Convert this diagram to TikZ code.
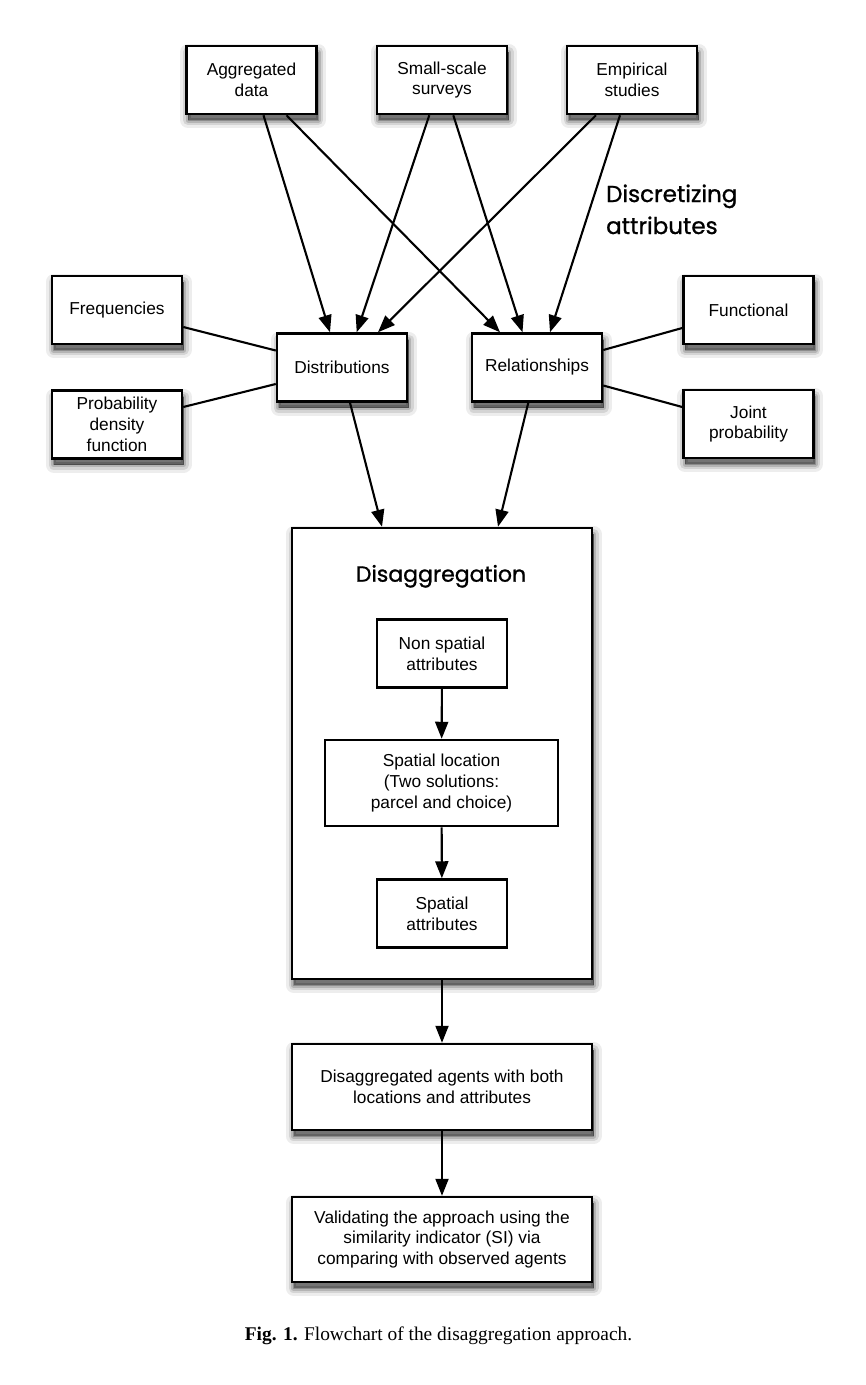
\documentclass[tikz,border=0pt]{standalone}
\usepackage{fontspec}
\setmainfont{Liberation Sans}
\newfontfamily\titlefont[FakeBold=1]{Poppins}
\newfontfamily\capfont{Liberation Serif}
\usetikzlibrary{arrows.meta,shadows,calc}
\begin{document}
\begin{tikzpicture}[x=1pt,y=-1pt,
  box/.style={draw=black, line width=2.5pt, fill=white, minimum width=130pt,
    minimum height=68pt, inner sep=0pt, align=center,
    font=\fontsize{17.3}{20.8}\selectfont},
  shad/.style={
    general shadow={fill=black, draw=black, opacity=0.07, line width=16pt,
      line join=round, shadow xshift=1.5pt, shadow yshift=-6pt},
    general shadow={fill=black, draw=black, opacity=0.10, line width=10pt,
      line join=round, shadow xshift=1.5pt, shadow yshift=-6pt},
    general shadow={fill=black, draw=black, opacity=0.15, line width=5pt,
      line join=round, shadow xshift=1.5pt, shadow yshift=-6pt},
    general shadow={fill=black, draw=black, opacity=0.22, line width=1pt,
      line join=round, shadow xshift=1.5pt, shadow yshift=-6pt}},
  conn/.style={line width=2.1pt},
  arr/.style={line width=2.1pt, -{Triangle[length=17pt,width=13pt]}},
  title/.style={font=\titlefont\fontsize{23}{28}\selectfont, inner sep=0pt}
]
\useasboundingbox (0,0) rectangle (866,1385);
\fill[white] (0,0) rectangle (866,1385);

% top sources
\node[box,shad] (agg) at (251.5,80) {Aggregated\\data};
\node[box,shad] (sss) at (442,80) {Small-scale\\surveys};
\node[box,shad] (emp) at (632,80) {Empirical\\studies};

% middle level
\node[box,shad] (freq) at (117,310) {Frequencies};
\node[box,shad] (pdf) at (117,424.5) {Probability\\density\\function};
\node[box,shad] (dist) at (342,367.5) {Distributions};
\node[box,shad] (rel) at (537,367.5) {Relationships};
\node[box,shad] (func) at (748.5,310) {Functional};
\node[box,shad] (joint) at (748.5,424) {Joint\\probability};

\node[title, anchor=base west] (disc1) at (606,202) {Discretizing};
\node[title, anchor=base west] (disc2) at (606,234) {attributes};

% disaggregation block
\node[draw=black, line width=2.5pt, fill=white, shad, minimum width=300pt,
  minimum height=451pt, inner sep=0pt] (dis) at (442,753.5) {};
\node[title, anchor=base, font=\titlefont\fontsize{22}{28}\selectfont] (distitle)
  at (441,581.7) {Disaggregation};
\node[box] (nonsp) at (442,653.5) {Non spatial\\attributes};
\node[box, minimum width=233pt, minimum height=86pt] (sploc) at (441.5,783)
  {Spatial location\\(Two solutions:\\parcel and choice)};
\node[box] (spatt) at (442,913.5) {Spatial\\attributes};

\node[box, shad, minimum width=300pt, minimum height=86pt] (agents) at (442,1087)
  {Disaggregated agents with both\\locations and attributes};
\node[box, shad, minimum width=300pt, minimum height=85pt] (valid) at (442,1239.5)
  {Validating the approach using the\\similarity indicator (SI) via\\comparing with observed agents};

\node[anchor=base, font=\capfont\fontsize{19.4}{23}\selectfont, inner sep=0pt] (cap)
  at (438.5,1340) {\textbf{Fig. 1.} Flowchart of the disaggregation approach.};

% connectors
\draw[arr] ([xshift=12pt]agg.south) -- ([xshift=-12pt]dist.north);
\draw[arr] ([xshift=35pt]agg.south) -- ([xshift=-37pt]rel.north);
\draw[arr] ([xshift=-12.7pt]sss.south) -- ([xshift=14.7pt]dist.north);
\draw[arr] ([xshift=11.3pt]sss.south) -- ([xshift=-14.5pt]rel.north);
\draw[arr] ([xshift=-36pt]emp.south) -- ([xshift=36pt]dist.north);
\draw[arr] ([xshift=-12pt]emp.south) -- ([xshift=13pt]rel.north);

\draw[conn] ([yshift=-17pt]freq.east) -- ([yshift=17pt]dist.west);
\draw[conn] ([yshift=17.5pt]pdf.east) -- ([yshift=-16.5pt]dist.west);
\draw[conn] ([yshift=17.5pt]rel.east) -- ([yshift=-18pt]func.west);
\draw[conn] ([yshift=-18pt]rel.east) -- ([yshift=17pt]joint.west);

\draw[arr] ([xshift=8pt]dist.south) -- ([xshift=-60pt]dis.north);
\draw[arr] ([xshift=-8.7pt]rel.south) -- ([xshift=56pt]dis.north);

\draw[arr] (nonsp) -- (sploc);
\draw[arr] (sploc) -- (spatt);
\draw[arr] (dis) -- (agents);
\draw[arr] (agents) -- (valid);
\end{tikzpicture}
\end{document}
